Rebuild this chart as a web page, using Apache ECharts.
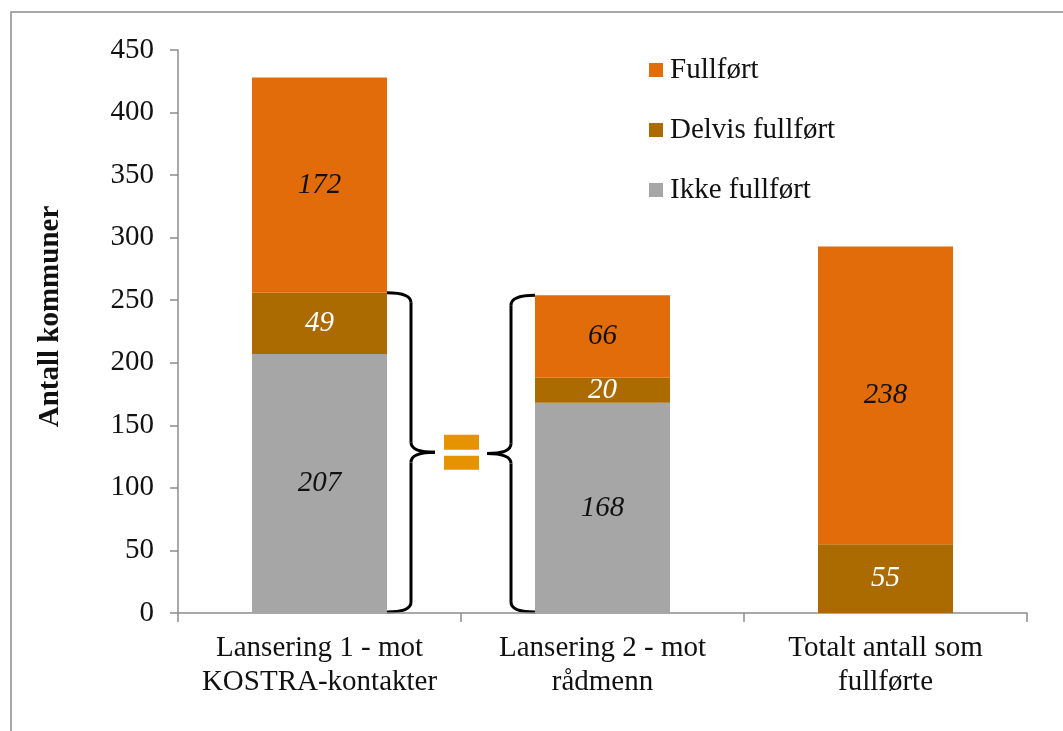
<!DOCTYPE html>
<html>
<head>
<meta charset="utf-8">
<script src="https://cdn.jsdelivr.net/npm/echarts@6/dist/echarts.min.js"></script>
<style>
  html, body { margin: 0; padding: 0; background: #fff; }
  #chart { width: 1063px; height: 731px; }
</style>
</head>
<body>
<div id="chart"></div>
<script>
const categories = ['Lansering 1 - mot\nKOSTRA-kontakter', 'Lansering 2 - mot\nrådmenn', 'Totalt antall som\nfullførte'];
const ikkeFullfort = [207, 168, '-'];
const delvisFullfort = [49, 20, 55];
const fullfort = [172, 66, 238];
const yTicks = { min: 0, max: 450, interval: 50 };

const FONT = '"Liberation Serif", "Times New Roman", serif';
const BAR_W = 135;

const chart = echarts.init(document.getElementById('chart'));

function seg(name, data, color, labelColor) {
  return {
    name: name,
    type: 'bar',
    stack: 'total',
    barWidth: BAR_W,
    data: data,
    itemStyle: { color: color },
    label: {
      show: true,
      position: 'inside',
      color: labelColor,
      fontFamily: FONT,
      fontStyle: 'italic',
      fontSize: 29
    }
  };
}

chart.setOption({
  animation: false,
  grid: { left: 178, top: 50, right: 36, bottom: 118 },
  legend: {
    orient: 'vertical',
    left: 644,
    top: 50,
    itemWidth: 14,
    itemHeight: 14,
    itemGap: 30,
    icon: 'rect',
    data: ['Fullført', 'Delvis fullført', 'Ikke fullført'],
    textStyle: { fontFamily: FONT, fontSize: 29, color: '#111', lineHeight: 30, padding: [0, 0, 0, 2] }
  },
  xAxis: {
    type: 'category',
    data: categories,
    axisLine: { lineStyle: { color: '#8c8c8c', width: 1.5 } },
    axisTick: { show: true, length: 9, lineStyle: { color: '#8c8c8c', width: 1.5 } },
    axisLabel: { interval: 0, color: '#111', fontFamily: FONT, fontSize: 29, lineHeight: 34, margin: 18 }
  },
  yAxis: {
    type: 'value',
    min: yTicks.min,
    max: yTicks.max,
    interval: yTicks.interval,
    name: 'Antall kommuner',
    nameLocation: 'middle',
    nameGap: 113,
    nameTextStyle: { fontFamily: FONT, fontSize: 29, fontWeight: 'bold', color: '#111', padding: [0, 0, 0, 30] },
    axisLine: { show: true, lineStyle: { color: '#8c8c8c', width: 1.5 } },
    axisTick: { show: true, length: 8, lineStyle: { color: '#8c8c8c', width: 1.5 } },
    splitLine: { show: false },
    axisLabel: { color: '#111', fontFamily: FONT, fontSize: 29, margin: 24 }
  },
  series: [
    seg('Ikke fullført', ikkeFullfort, '#a6a6a6', '#111'),
    seg('Delvis fullført', delvisFullfort, '#ac6b00', '#fff'),
    seg('Fullført', fullfort, '#e36c0a', '#111')
  ]
});

// annotation braces and "=" sign, positioned from the axes
function px(cat, val) { return chart.convertToPixel({ gridIndex: 0 }, [cat, val]); }

const braceStyle = { fill: 'none', stroke: '#000', lineWidth: 3 };

function brace(x0, yTop, yBot, dir) {
  // dir = 1 -> '}' ; dir = -1 -> '{'
  const xs = x0 + dir * 24;
  const xt = x0 + dir * 48;
  const ym = (yTop + yBot) / 2;
  const r = 10;
  const q = function (x1, y1, cx, cy, x2, y2) {
    return { type: 'bezierCurve', shape: { x1: x1, y1: y1, cpx1: cx, cpy1: cy, x2: x2, y2: y2 }, style: braceStyle };
  };
  const l = function (x1, y1, x2, y2) {
    return { type: 'line', shape: { x1: x1, y1: y1, x2: x2, y2: y2 }, style: braceStyle };
  };
  return [
    q(x0, yTop, xs, yTop, xs, yTop + r),
    l(xs, yTop + r, xs, ym - r),
    q(xs, ym - r, xs, ym, xt, ym),
    q(xt, ym, xs, ym, xs, ym + r),
    l(xs, ym + r, xs, yBot - r),
    q(xs, yBot - r, xs, yBot, x0, yBot)
  ];
}

const top1 = px(0, ikkeFullfort[0] + delvisFullfort[0]);
const bot1 = px(0, 0);
const top2 = px(1, ikkeFullfort[1] + delvisFullfort[1] + fullfort[1]);
const bot2 = px(1, 0);
const xL = top1[0] + BAR_W / 2;
const xR = top2[0] - BAR_W / 2;
const ymid = (top1[1] + bot1[1]) / 2;
const xEq = (xL + xR) / 2;

chart.setOption({
  graphic: [
    { type: 'rect', shape: { x: 11, y: 12, width: 1200, height: 900 }, style: { fill: 'none', stroke: '#8c8c8c', lineWidth: 1.5 }, silent: true },
    { type: 'rect', shape: { x: xEq - 17, y: ymid - 18, width: 35, height: 15 }, style: { fill: '#e59400' } },
    { type: 'rect', shape: { x: xEq - 17, y: ymid + 3, width: 35, height: 14 }, style: { fill: '#e59400' } }
  ].concat(brace(xL, top1[1], bot1[1] - 1, 1), brace(xR, top2[1], bot2[1] - 1, -1))
});
</script>
</body>
</html>
